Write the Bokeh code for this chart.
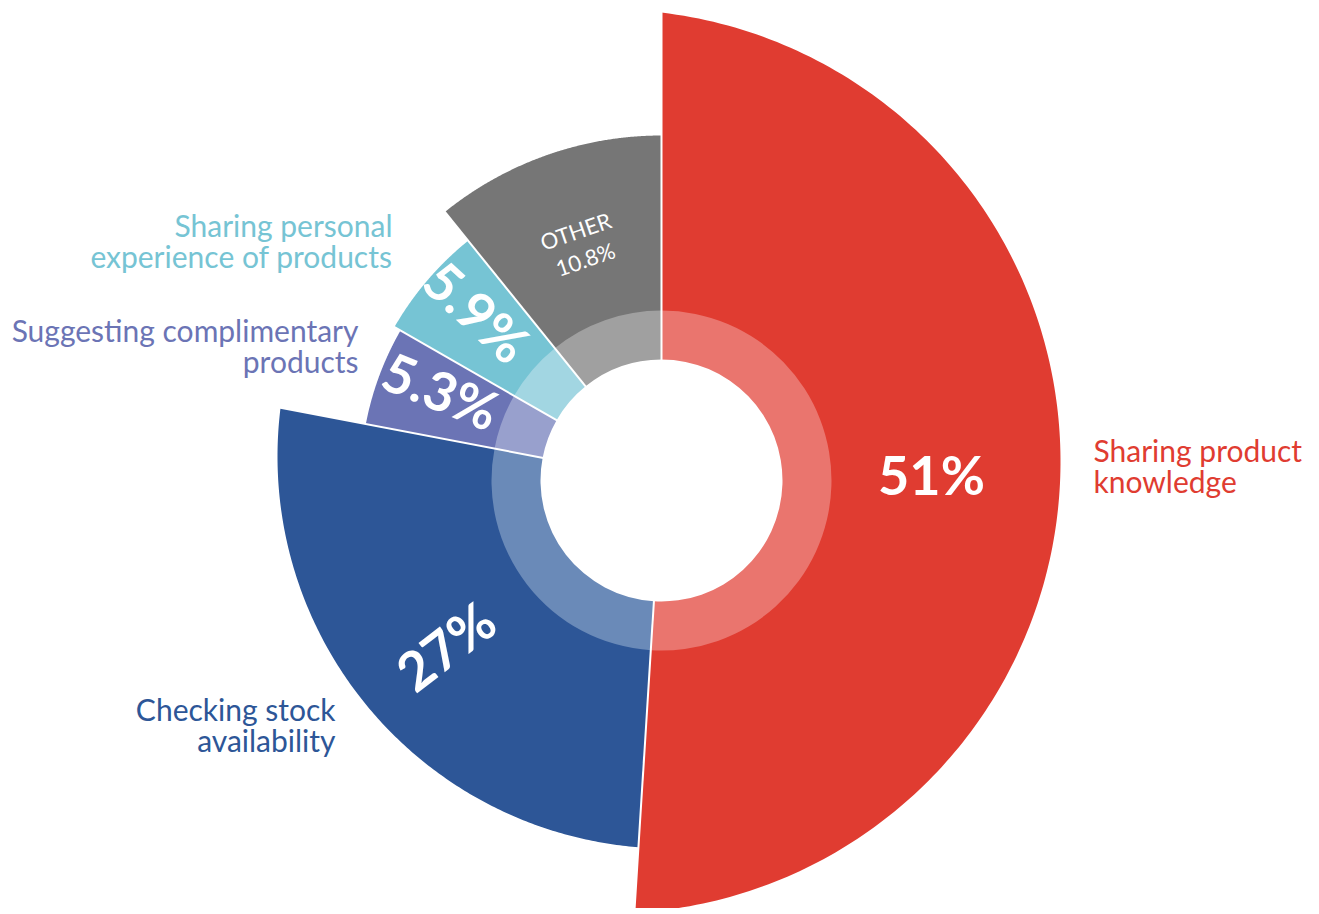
import numpy as np
from bokeh.plotting import figure
from bokeh.models import Range1d, ColumnDataSource
from bokeh.embed import file_html
from bokeh.resources import INLINE
from bokeh.core.properties import value

# ---------------- data ----------------
categories = ["Sharing product knowledge", "Checking stock availability",
              "Suggesting complimentary products",
              "Sharing personal experience of products", "OTHER"]
shares = [51.0, 27.0, 5.3, 5.9, 10.8]
share_text = ["51%", "27%", "5.3%", "5.9%", "OTHER\n10.8%"]
label_lines = [["Sharing product", "knowledge"],
               ["Checking stock", "availability"],
               ["Suggesting complimentary", "products"],
               ["Sharing personal", "experience of products"],
               []]

# ---------------- style / layout ----------------
colors = ["#E03C31", "#2D5697", "#6B74B5", "#76C4D4", "#767676"]
ring_colors = ["#EA756E", "#6A8AB8", "#98A0CD", "#A2D6E2", "#A0A0A0"]
# outer boundary of each slice: circle (offset x, offset y, radius), px
outer_circle = [(-53, 19, 452), (8, 24, 392), (0, 0, 301), (0, 0, 308), (0, 0, 345)]
HOLE_R, RING_R = 121, 170
# value-label placement: (radius, clockwise angle from top in deg, mode)
pct_place = [(270, 88.8, "h"), (272, 232.6, "r"), (238, 292.2, "r"),
             (250, 312.5, "r"), (249, 341.0, "t")]
# outside-label anchors (x, first baseline y) relative to centre, y up; align
side_place = [(432, 31, "left"), (-326, -228, "right"),
              (-303, 151, "right"), (-269, 256, "right"), None]
LINE_GAP = 31

W, H = 1310, 908
CX, CY = 661, 480

p = figure(width=W, height=H, output_backend="svg", toolbar_location=None,
           x_range=Range1d(-CX, W - CX), y_range=Range1d(-(H - CY), CY),
           x_axis_type=None, y_axis_type=None, min_border=0)
p.outline_line_color = None
p.background_fill_color = "white"
p.border_fill_color = "white"

bounds = np.concatenate([[0.0], np.cumsum(shares)]) / 100.0 * 2 * np.pi  # clockwise from top


def outer_r(a, ox, oy, R):
    dx, dy = np.sin(a), np.cos(a)
    dc = dx * ox + dy * oy
    return dc + np.sqrt(dc ** 2 - (ox ** 2 + oy ** 2) + R ** 2)


xs, ys = [], []
for i in range(len(shares)):
    a = np.linspace(bounds[i], bounds[i + 1], 200)
    t = outer_r(a, *outer_circle[i])
    ai = a[::-1]
    xs.append(np.concatenate([t * np.sin(a), (RING_R - 5) * np.sin(ai)]).tolist())
    ys.append(np.concatenate([t * np.cos(a), (RING_R - 5) * np.cos(ai)]).tolist())

p.patches(xs, ys, fill_color=colors, line_color=None)

p.annular_wedge(x=0, y=0, inner_radius=HOLE_R, outer_radius=RING_R,
                start_angle=(np.pi / 2 - bounds[:-1]).tolist(),
                end_angle=(np.pi / 2 - bounds[1:]).tolist(),
                direction="clock", fill_color=ring_colors, line_color=None)

# white separators
sep = bounds[:-1]
p.segment(x0=(HOLE_R - 2) * np.sin(sep), y0=(HOLE_R - 2) * np.cos(sep),
          x1=480 * np.sin(sep), y1=480 * np.cos(sep),
          line_color="white", line_width=2)

# value labels
big = dict(x=[], y=[], text=[], angle=[])
small = dict(x=[], y=[], text=[], angle=[])
for i, (r, adeg, mode) in enumerate(pct_place):
    a = np.deg2rad(adeg)
    x, y = r * np.sin(a), r * np.cos(a)
    if mode == "h":
        ang = 0.0
    elif mode == "r":
        ang = float(np.arctan2(-np.cos(a), -np.sin(a)))
    else:
        ang = float(-a)
    d = small if mode == "t" else big
    d["x"].append(x); d["y"].append(y); d["text"].append(share_text[i]); d["angle"].append(ang)

p.text(x="x", y="y", text="text", angle="angle", source=ColumnDataSource(big),
       text_font=value("Lato"), text_font_style="bold", text_font_size="54px",
       text_color="white", text_align="center", text_baseline="middle")
p.text(x="x", y="y", text="text", angle="angle", source=ColumnDataSource(small),
       text_font=value("Lato"), text_font_size="22px", text_line_height=1.1,
       text_color="white", text_align="center", text_baseline="middle")

# outside labels
for i, lines in enumerate(label_lines):
    if not lines:
        continue
    x0, y0, align = side_place[i]
    src = ColumnDataSource(dict(x=[x0] * len(lines),
                                y=[y0 - k * LINE_GAP for k in range(len(lines))],
                                text=lines))
    p.text(x="x", y="y", text="text", source=src, text_font=value("Lato"),
           text_font_size="30px", text_color=colors[i], text_align=align,
           text_baseline="alphabetic")

open("out.html", "w").write(file_html(p, INLINE))
